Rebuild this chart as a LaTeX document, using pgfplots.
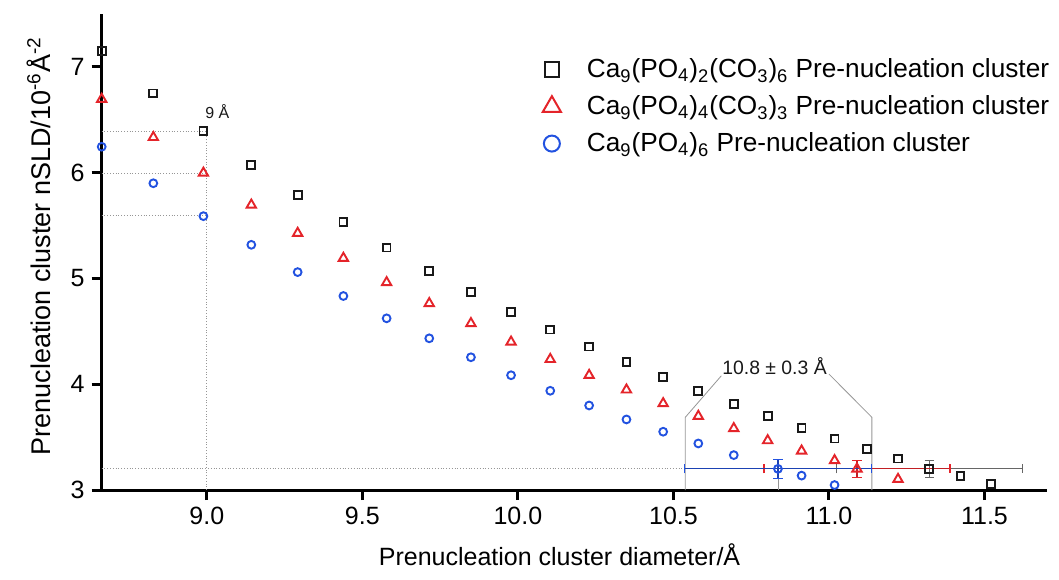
\documentclass[border=0pt]{standalone}
\usepackage{fontspec}
\setmainfont{Liberation Sans}
\usepackage{pgfplots}
\pgfplotsset{compat=1.18}
\definecolor{cblack}{RGB}{25,25,25}
\definecolor{cred}{RGB}{228,36,42}
\definecolor{cblue}{RGB}{34,82,224}
\definecolor{cgray}{RGB}{150,150,150}
\newcommand{\fs}{\fontsize{12.5pt}{15pt}\selectfont}
\newcommand{\fl}{\fontsize{13.1pt}{15.5pt}\selectfont}
\newcommand{\fy}{\fontsize{13.5pt}{16pt}\selectfont}
\begin{document}
\begin{tikzpicture}
\begin{axis}[
  width=472.5pt, height=238pt, scale only axis,
  xmin=8.662, xmax=11.70, ymin=3, ymax=7.5,
  clip=false,
  axis lines=left,
  axis line style={-, line width=1.5pt, black},
  xtick={9,9.5,10,10.5,11,11.5}, ytick={3,4,5,6,7},
  minor tick num=0,
  tick align=outside, major tick length=5pt,
  tick style={line width=1.5pt, black},
  /pgf/number format/assume math mode=true,
  tick label style={font=\fs},
  x tick label style={/pgf/number format/.cd, fixed, fixed zerofill, precision=1, /tikz/.cd},
  xlabel={Prenucleation cluster diameter/Å},
  ylabel={Prenucleation cluster nSLD/10\textsuperscript{-6}Å\textsuperscript{-2}},
  xlabel style={font=\fs, at={(axis description cs:0.4845,-0.1366)}, anchor=center},
  ylabel style={font=\fy, at={(axis description cs:-0.0662,0.512)}, anchor=center},
  legend style={draw=none, fill=none, at={(axis cs:10.079,7.12)}, anchor=north west,
    font=\fl, inner sep=0pt, row sep=3.5pt,
    /tikz/every odd column/.append style={column sep=11pt}},
  legend cell align=left,
]
% reference lines
\draw[cgray, line width=0.4pt, densely dotted] (axis cs:8.662,6.393) -- (axis cs:9.0,6.393);
\draw[cgray, line width=0.4pt, densely dotted] (axis cs:8.662,5.997) -- (axis cs:9.0,5.997);
\draw[cgray, line width=0.4pt, densely dotted] (axis cs:8.662,5.594) -- (axis cs:9.0,5.594);
\draw[cgray, line width=0.4pt, densely dotted] (axis cs:9.0,3) -- (axis cs:9.0,6.393);
\draw[cgray, line width=0.4pt, densely dotted] (axis cs:8.662,3.2) -- (axis cs:10.538,3.2);
\draw[cgray, line width=0.4pt] (axis cs:10.538,3) -- (axis cs:10.538,3.687) -- (axis cs:10.654,4.080);
\draw[cgray, line width=0.4pt] (axis cs:11.138,3) -- (axis cs:11.138,3.687) -- (axis cs:11.0,4.096);
\draw[cgray, line width=0.4pt] (axis cs:10.836,3) -- (axis cs:10.836,3.11);
\node[font=\fontsize{9.7pt}{11pt}\selectfont, text=cblack] at (axis cs:10.825,4.175) {10.8 ± 0.3 Å};
\node[font=\fontsize{8pt}{10pt}\selectfont, text=cblack] at (axis cs:9.034,6.573) {9 Å};

\addlegendimage{only marks, mark=square, mark size=3.6pt, mark options={draw=cblack, line width=1pt}}
\addlegendentry{Ca\textsubscript{9}(PO\textsubscript{4})\textsubscript{2}(CO\textsubscript{3})\textsubscript{6} Pre-nucleation cluster}
\addlegendimage{only marks, mark=triangle, mark size=5.2pt, mark options={draw=cred, line width=1pt}}
\addlegendentry{Ca\textsubscript{9}(PO\textsubscript{4})\textsubscript{4}(CO\textsubscript{3})\textsubscript{3} Pre-nucleation cluster}
\addlegendimage{only marks, mark=o, mark size=4pt, mark options={draw=cblue, line width=1pt}}
\addlegendentry{Ca\textsubscript{9}(PO\textsubscript{4})\textsubscript{6} Pre-nucleation cluster}

% series
\addplot[forget plot, only marks, mark=square, mark size=1.95pt, mark options={draw=cblack, line width=0.95pt}] coordinates {
(8.662,7.151) (8.828,6.749) (8.989,6.393) (9.143,6.075) (9.292,5.790) (9.439,5.532)
(9.578,5.292) (9.715,5.073) (9.849,4.872) (9.978,4.686) (10.104,4.516) (10.229,4.356)
(10.349,4.208) (10.467,4.070) (10.580,3.938) (10.694,3.811) (10.803,3.702) (10.912,3.583)
(11.018,3.486) (11.122,3.388) (11.222,3.297) (11.423,3.131) (11.520,3.054)};
\addplot[forget plot, only marks, mark=triangle, mark size=2.7pt, mark options={draw=cred, line width=0.95pt}] coordinates {
(8.662,6.695) (8.828,6.334) (8.989,5.997) (9.143,5.695) (9.292,5.428) (9.439,5.192)
(9.578,4.962) (9.715,4.764) (9.849,4.575) (9.978,4.400) (10.104,4.236) (10.229,4.085)
(10.349,3.947) (10.467,3.818) (10.580,3.698) (10.694,3.582) (10.803,3.468) (10.912,3.370)
(11.018,3.279) (11.222,3.102)};
\addplot[forget plot, only marks, mark=o, mark size=1.95pt, mark options={draw=cblue, line width=0.95pt}] coordinates {
(8.662,6.245) (8.828,5.900) (8.989,5.589) (9.143,5.318) (9.292,5.060) (9.439,4.834)
(9.578,4.623) (9.715,4.434) (9.849,4.255) (9.978,4.085) (10.104,3.938) (10.229,3.799)
(10.349,3.667) (10.467,3.551) (10.580,3.440) (10.694,3.330) (10.912,3.136) (11.018,3.047)};

% mean points with error bars
\addplot[forget plot, only marks, mark=square, mark size=1.95pt, mark options={draw=cblack, line width=0.95pt},
  error bars/.cd, x dir=both, x explicit, y dir=both, y explicit,
  error bar style={line width=0.6pt, black!60},
  error mark options={rotate=90, mark size=2.3pt, line width=0.6pt, black!60}]
  coordinates {(11.322,3.2) +- (0.299,0.08)};
\addplot[forget plot, only marks, mark=triangle, mark size=2.7pt, mark options={draw=cred, line width=0.95pt},
  error bars/.cd, x dir=both, x explicit, y dir=both, y explicit,
  error bar style={line width=0.6pt, cred!85!black},
  error mark options={rotate=90, mark size=2.3pt, line width=0.6pt, cred}]
  coordinates {(11.090,3.2) +- (0.299,0.08)};
\addplot[forget plot, only marks, mark=o, mark size=1.95pt, mark options={draw=cblue, line width=0.95pt},
  error bars/.cd, x dir=both, x explicit, y dir=both, y explicit,
  error bar style={line width=0.6pt, cblue!80!black},
  error mark options={rotate=90, mark size=2.3pt, line width=0.6pt, cblue}]
  coordinates {(10.836,3.2) +- (0.300,0.09)};
\end{axis}
\pgfresetboundingbox
\path[use as bounding box] (-50.85pt,-44.5pt) rectangle (478.65pt,245pt);
\end{tikzpicture}
\end{document}
